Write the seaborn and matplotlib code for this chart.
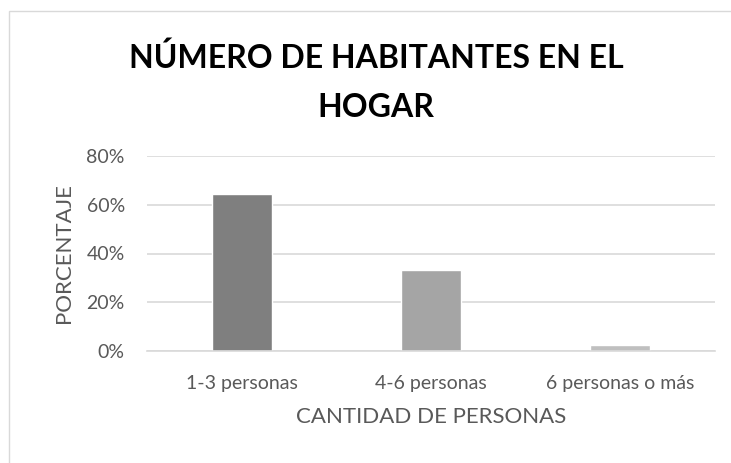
import matplotlib
matplotlib.use("Agg")
import matplotlib.pyplot as plt
import seaborn as sns
import pandas as pd
from matplotlib.ticker import PercentFormatter
from matplotlib.patches import Rectangle

categories = ["1-3 personas", "4-6 personas", "6 personas o más"]
values = [0.643, 0.332, 0.025]
colors = ["#7f7f7f", "#a5a5a5", "#bfbfbf"]
title_lines = ["NÚMERO DE HABITANTES EN EL", "HOGAR"]

sns.set_theme(style="white")
plt.rcParams['font.family'] = ['Lato', 'DejaVu Sans']

df = pd.DataFrame({"cat": categories, "val": values})

W, H = 731, 463
fig = plt.figure(figsize=(W/100, H/100), dpi=100)
fig.patch.set_facecolor("white")
# chart border
fig.patches.append(Rectangle((8.5/W, -0.01), 1, 1 - 11/H + 0.01, transform=fig.transFigure,
                             fill=False, edgecolor="#d9d9d9", linewidth=1))

ax = fig.add_axes([147/W, 1 - 351/H, (715-147)/W, (351-156)/H])
sns.barplot(data=df, x="cat", y="val", hue="cat", palette=colors, width=0.317,
            legend=False, ax=ax, saturation=1)
ax.set_ylim(0, 0.8)
ax.set_xlim(-0.5, 2.5)
ax.set_yticks([0, 0.2, 0.4, 0.6, 0.8])
ax.yaxis.set_major_formatter(PercentFormatter(1.0, decimals=0))
ax.grid(axis="y", color="#d9d9d9", linewidth=1.2)
ax.set_axisbelow(True)
for s in ["top", "right", "left"]:
    ax.spines[s].set_visible(False)
ax.spines["bottom"].set_color("#d9d9d9")
ax.spines["bottom"].set_linewidth(1.2)
ax.tick_params(axis="both", length=0, labelsize=14, colors="#595959")
ax.tick_params(axis="y", pad=16)
ax.tick_params(axis="x", pad=17)
ax.set_xlabel("CANTIDAD DE PERSONAS", fontsize=16, color="#595959", labelpad=11)
ax.set_ylabel("PORCENTAJE", fontsize=16, color="#595959", labelpad=9)

fig.text(376/W, 1 - 68/H, title_lines[0], ha="center", va="baseline",
         fontsize=23, fontweight="bold", color="#000000")
fig.text(376/W, 1 - 117/H, title_lines[1], ha="center", va="baseline",
         fontsize=23, fontweight="bold", color="#000000")

fig.savefig("out.png", dpi=100)
